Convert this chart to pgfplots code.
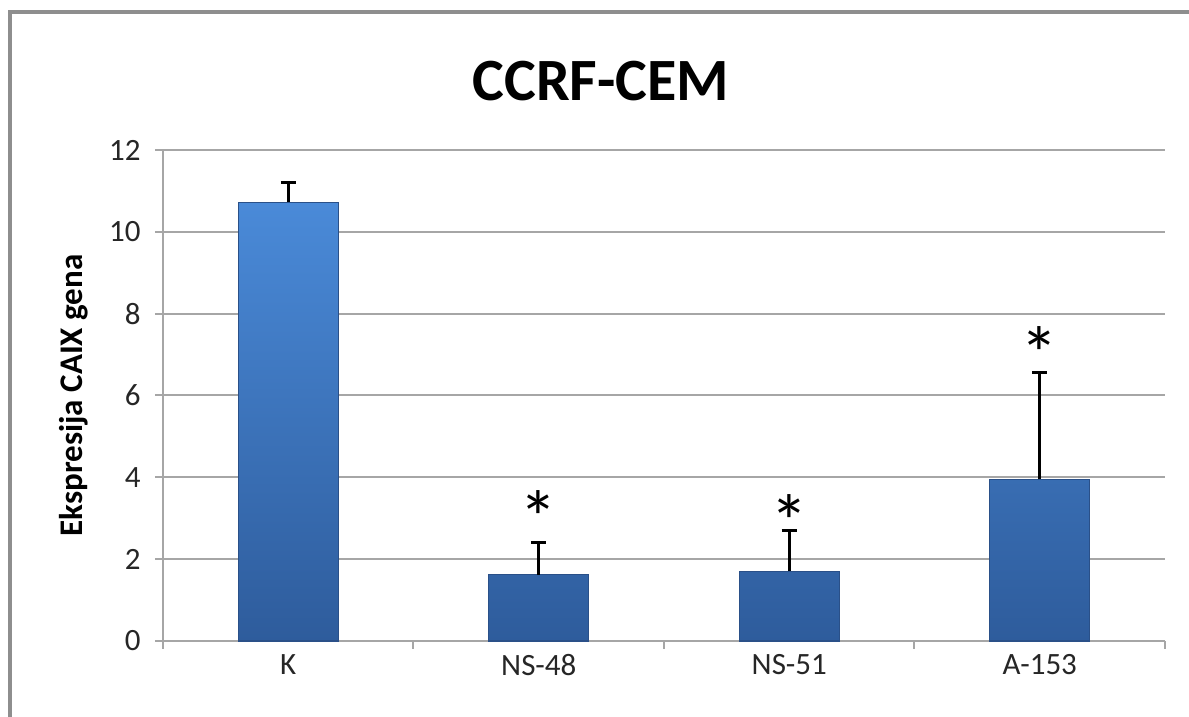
\documentclass[border=0pt]{standalone}
\usepackage{pgfplots}
\pgfplotsset{compat=1.18}
\usepackage{fontspec}
\setmainfont{Carlito}

\definecolor{barTop}{HTML}{4A8AD8}
\definecolor{barBot}{HTML}{2E5C9C}
\definecolor{barEdge}{HTML}{2A5088}
\definecolor{gridGray}{HTML}{A6A6A6}
\definecolor{frameGray}{HTML}{8E8E8E}
\definecolor{txt}{HTML}{262626}

\begin{document}
\begin{tikzpicture}
  % whole chart area: 1189 x 717 px at 0.5pt per px
  \useasboundingbox (0,0) rectangle (594.5pt,358.5pt);
  \draw[frameGray, line width=1.75pt] (5pt,0) -- (5pt,352.5pt) -- (594.5pt,352.5pt);

  \node[font=\bfseries\fontsize{30}{36}\selectfont, text=black] at (300.5pt,318pt) {CCRF-CEM};

  \begin{axis}[
      at={(81.5pt,38pt)}, anchor=south west,
      scale only axis,
      width=501pt, height=245.5pt,
      ybar, bar width=50pt,
      xmin=-0.5, xmax=3.5,
      ymin=0, ymax=12,
      ytick={0,2,...,12},
      xtick={-0.5,0.5,1.5,2.5,3.5},
      xticklabels={},
      extra x ticks={0,1,2,3},
      extra x tick labels={K,NS-48,NS-51,A-153},
      extra x tick style={major tick length=0pt, grid=none},
      axis x line*=bottom, axis y line*=left,
      x axis line style={-, gridGray, line width=1pt},
      y axis line style={-, gridGray, line width=1pt},
      tick align=outside,
      major tick length=4pt,
      tick style={gridGray, line width=1pt},
      ymajorgrids=true,
      grid style={gridGray, line width=1pt},
      /pgf/number format/assume math mode=true,
      ticklabel style={font=\fontsize{15.5}{18}\selectfont, text=txt},
      yticklabel style={anchor=east, inner sep=0pt, xshift=-7pt},
      xticklabel style={anchor=north, inner sep=0pt, yshift=-6.5pt},
      ylabel={Ekspresija CAIX gena},
      ylabel style={at={(rel axis cs:-0.0808,0.5)}, anchor=base, rotate=0,
                    font=\bfseries\fontsize{16.5}{20}\selectfont, text=black},
      clip=false,
    ]
    \addplot[draw=barEdge, line width=0.6pt, top color=barTop, bottom color=barBot,
      error bars/.cd, y dir=plus, y explicit,
      error bar style={black, line width=1.5pt},
      error mark options={rotate=90, mark size=3.75pt, line width=1.5pt, black}]
      coordinates {
        (0,10.72) +- (0,0.49)
        (1,1.62)  +- (0,0.78)
        (2,1.70)  +- (0,1.01)
        (3,3.95)  +- (0,2.61)
      };
    \node[font=\fontsize{38}{44}\selectfont, yshift=-7pt] at (axis cs:1,3.37) {*};
    \node[font=\fontsize{38}{44}\selectfont, yshift=-7pt] at (axis cs:2,3.25) {*};
    \node[font=\fontsize{38}{44}\selectfont, yshift=-7pt] at (axis cs:3,7.36) {*};
  \end{axis}
\end{tikzpicture}
\end{document}
